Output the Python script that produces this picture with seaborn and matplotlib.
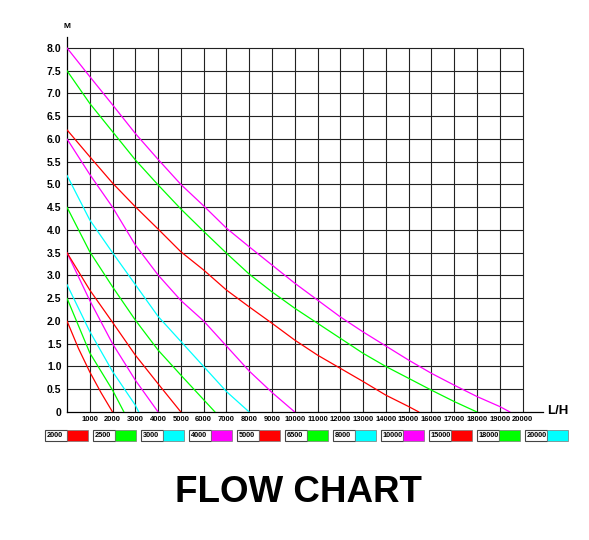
import matplotlib
matplotlib.use("Agg")
import matplotlib.pyplot as plt
from matplotlib.patches import Rectangle
import seaborn as sns
import pandas as pd

# ---- data ----
models = ["2000", "2500", "3000", "4000", "5000", "6500",
          "8000", "10000", "15000", "18000", "20000"]
curve_colors = ["#ff0000", "#00ff00", "#00ffff", "#ff00ff", "#ff0000", "#00ff00",
                "#00ffff", "#ff00ff", "#ff0000", "#00ff00", "#ff00ff"]
legend_colors = ["#ff0000", "#00ff00", "#00ffff", "#ff00ff", "#ff0000", "#00ff00",
                 "#00ffff", "#ff00ff", "#ff0000", "#00ff00", "#00ffff"]

flow_2000 = [0, 500, 1000, 1500, 2000]
head_2000 = [2.0, 1.4, 0.88, 0.42, 0.0]
flow_2500 = [0, 1000, 2000, 2500]
head_2500 = [2.5, 1.3, 0.48, 0.0]
flow_3000 = [0, 1000, 2000, 3000, 3150]
head_3000 = [2.8, 1.77, 0.89, 0.15, 0.0]
flow_4000 = [0, 1000, 2000, 3000, 4000]
head_4000 = [3.5, 2.45, 1.5, 0.7, 0.0]
flow_5000 = [0, 1000, 2000, 3000, 4000, 5000]
head_5000 = [3.5, 2.68, 1.97, 1.25, 0.62, 0.0]
flow_6500 = [0, 1000, 2000, 3000, 4000, 5000, 6000, 6500]
head_6500 = [4.5, 3.52, 2.75, 2.02, 1.36, 0.81, 0.27, 0.0]
flow_8000 = [0, 1000, 2000, 3000, 4000, 5000, 6000, 7000, 8000]
head_8000 = [5.2, 4.22, 3.5, 2.8, 2.1, 1.55, 1.0, 0.45, 0.0]
flow_10000 = [0, 1000, 2000, 3000, 4000, 5000, 6000, 7000, 8000, 9000, 10000]
head_10000 = [6.0, 5.22, 4.5, 3.67, 3.01, 2.45, 2.0, 1.45, 0.9, 0.43, 0.0]
flow_15000 = [0, 1000, 2000, 3000, 4000, 5000, 6000, 7000, 8000, 9000, 10000,
              11000, 12000, 13000, 14000, 15000, 15450]
head_15000 = [6.2, 5.61, 5.03, 4.51, 4.02, 3.52, 3.12, 2.68, 2.31, 1.95, 1.58,
              1.25, 0.96, 0.67, 0.37, 0.12, 0.0]
flow_18000 = [0, 1000, 2000, 3000, 4000, 5000, 6000, 7000, 8000, 9000, 10000,
              11000, 12000, 13000, 14000, 15000, 16000, 17000, 18000]
head_18000 = [7.5, 6.78, 6.16, 5.54, 4.99, 4.46, 3.97, 3.49, 3.03, 2.64, 2.28,
              1.95, 1.62, 1.29, 1.0, 0.74, 0.48, 0.23, 0.0]
flow_20000 = [0, 1000, 2000, 3000, 4000, 5000, 6000, 7000, 8000, 9000, 10000,
              11000, 12000, 13000, 14000, 15000, 16000, 17000, 18000, 19000, 19450]
head_20000 = [8.0, 7.37, 6.75, 6.12, 5.55, 5.0, 4.53, 4.04, 3.63, 3.23, 2.83,
              2.46, 2.09, 1.76, 1.45, 1.14, 0.85, 0.59, 0.34, 0.12, 0.0]

flows = [flow_2000, flow_2500, flow_3000, flow_4000, flow_5000, flow_6500,
         flow_8000, flow_10000, flow_15000, flow_18000, flow_20000]
heads = [head_2000, head_2500, head_3000, head_4000, head_5000, head_6500,
         head_8000, head_10000, head_15000, head_18000, head_20000]

x_ticks = list(range(1000, 20001, 1000))
y_ticks = [i * 0.5 for i in range(17)]
y_tick_labels = ["0"] + [f"{v:.1f}" for v in y_ticks[1:]]
title_text = "FLOW CHART"

# ---- build table ----
rows = []
for m, fl, hd in zip(models, flows, heads):
    for f, h in zip(fl, hd):
        rows.append({"model": m, "flow": f, "head": h})
df = pd.DataFrame(rows)

sns.set_style("white")
plt.rcParams["font.family"] = ["Liberation Sans", "DejaVu Sans"]
plt.rcParams["text.color"] = "black"
plt.rcParams["xtick.color"] = "black"
plt.rcParams["ytick.color"] = "black"

W, H = 589, 540
fig = plt.figure(figsize=(W / 100, H / 100), dpi=100)
ax = fig.add_axes([67 / W, (H - 412) / H, (543 - 67) / W, (412 - 37) / H])

# grid restricted to the data area
ax.hlines(y_ticks[1:], 0, 20000, colors="#222222", lw=0.8, zorder=1)
ax.vlines(x_ticks, 0, 8.0, colors="#222222", lw=0.8, zorder=1)

sns.lineplot(data=df, x="flow", y="head", hue="model", palette=dict(zip(models, curve_colors)),
             hue_order=models, sort=False, estimator=None, lw=0.9, legend=False, ax=ax, zorder=3)

ax.set_xlim(0, 20900)
ax.set_ylim(0, 8.24)
ax.set_xticks(x_ticks)
ax.set_xticklabels([str(v) for v in x_ticks], fontsize=5.5, fontweight="bold")
ax.set_yticks(y_ticks)
ax.set_yticklabels(y_tick_labels, fontsize=7.5, fontweight="bold")
ax.tick_params(axis="both", length=0)
ax.tick_params(axis="y", pad=4)
ax.tick_params(axis="x", pad=3)
ax.set_xlabel("")
ax.set_ylabel("")
for s in ["top", "right"]:
    ax.spines[s].set_visible(False)
for s in ["left", "bottom"]:
    ax.spines[s].set_color("black")
    ax.spines[s].set_linewidth(0.9)

fig.text(67 / W, 1 - 27 / H, "M", ha="center", va="center", fontsize=6, fontweight="bold")
fig.text(547 / W, 1 - 411 / H, "L/H", ha="left", va="center", fontsize=9.5, fontweight="bold")

# legend row of boxes
lx0, step, bw, wpart = 45, 48, 43, 22
ytop, ybot = 430, 441
for i, (m, c) in enumerate(zip(models, legend_colors)):
    x = lx0 + i * step
    fig.patches.append(Rectangle((x / W, 1 - ybot / H), wpart / W, (ybot - ytop) / H,
                                 transform=fig.transFigure, facecolor="white",
                                 edgecolor="#444444", lw=0.8))
    fig.patches.append(Rectangle(((x + wpart) / W, 1 - ybot / H), (bw - wpart) / W, (ybot - ytop) / H,
                                 transform=fig.transFigure, facecolor=c,
                                 edgecolor="#777777", lw=0.5))
    fig.text((x + 1.5) / W, 1 - (ytop + ybot) / 2 / H, m, ha="left", va="center",
             fontsize=5.3, fontweight="bold")

fig.text(298 / W, 1 - 493 / H, title_text, ha="center", va="center",
         fontsize=26.5, fontweight="bold", color="black")

fig.savefig("out.png", dpi=100, facecolor="white")
